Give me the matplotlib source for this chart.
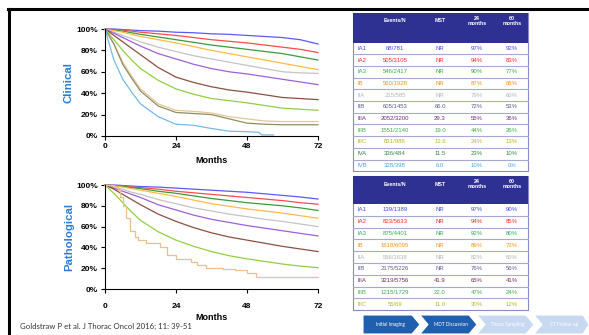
import numpy as np
import matplotlib
matplotlib.use("Agg")
import matplotlib.pyplot as plt
from matplotlib.patches import Rectangle, Polygon

# ---- data ----
stages = ['IA1', 'IA2', 'IA3', 'IB', 'IIA', 'IIB', 'IIIA', 'IIIB', 'IIIC', 'IVA', 'IVB']
months = [0, 3, 6, 9, 12, 18, 24, 30, 36, 42, 48, 54, 60, 66, 72]

clin_ia1 = [100, 100, 99.5, 99, 98.5, 98, 97, 96.5, 95.5, 95, 94, 93, 92, 90, 86]
clin_ia2 = [100, 99.5, 99, 98, 97, 95.5, 94, 92, 90, 88.5, 87, 85, 83, 81, 78]
clin_ia3 = [100, 99, 98, 96.5, 95, 92.5, 90, 87.5, 85, 83, 81, 79, 77, 74, 71]
clin_ib = [100, 98.5, 97, 95, 93, 90, 87, 83.5, 80, 77, 74, 71, 68, 65, 62]
clin_iia = [100, 97, 94, 91, 88, 83, 79, 75, 72, 69, 66, 63, 60, 59, 58.5]
clin_iib = [100, 96, 92, 88, 84, 77, 72, 67, 63, 60, 58, 55.5, 53, 50.5, 48]
clin_iiia = [100, 94, 88, 82, 76, 64, 55, 50, 46, 43, 41, 38.5, 36, 35, 34]
clin_iiib = [100, 90, 80, 71, 63, 52, 44, 39, 35, 33, 31, 28.5, 26, 25, 24]
clin_iiic = [100, 86, 69, 56, 44, 30, 24, 23, 21.5, 18, 16, 14, 13.5, 13.5, 13.5]
clin_iva = [100, 86, 67, 54, 42, 28, 22, 21, 20, 16, 12, 11, 10.5, 10.5, 10.5]
clin_ivb_months = [0, 3, 6, 9, 12, 18, 24, 30, 36, 42, 48, 52, 53, 57]
clin_ivb = [100, 71, 53, 41, 30, 18, 11, 10, 7, 4.5, 4, 3.5, 1, 1]

path_ia1 = [100, 100, 99.5, 99, 98.5, 98, 97, 96, 95, 94, 93, 91.5, 90, 88.5, 86.5]
path_ia2 = [100, 99.5, 99, 98, 97.5, 96, 94, 92.5, 91, 89.5, 88, 86.5, 85, 83, 81.5]
path_ia3 = [100, 99.5, 98.5, 97.5, 96.5, 94, 92, 89.5, 87, 85, 83, 81.5, 80, 78, 75.5]
path_ib = [100, 99, 98, 96.5, 95, 92, 89, 85.5, 82, 79.5, 77, 75, 73, 70.5, 68]
path_iia = [100, 98, 96, 93, 91, 86, 82, 78, 75, 72, 69.5, 67, 65, 62.5, 60]
path_iib = [100, 97, 94, 91, 88, 81, 76, 71, 67, 64, 61, 58.5, 56, 53.5, 51]
path_iiia = [100, 96, 91, 86, 81, 72, 65, 59, 54, 50, 47, 44, 41, 38.5, 36]
path_iiib = [100, 92, 83, 74, 66, 55, 47, 41, 36, 32, 29, 26.5, 24, 22, 20.5]
path_iiic_months = [0, 3, 4.5, 5, 6, 7, 8.5, 10, 11, 14, 18.5, 21, 24, 29, 31, 34, 40, 44, 48, 51, 72]
path_iiic = [100, 98, 95, 88, 80, 68, 56, 50, 47, 44, 40, 33, 29, 26, 23, 20.5, 19, 18, 15, 12, 12]

clin_events = ['68/781', '505/3105', '546/2417', '560/1928', '215/585', '605/1453',
               '2052/3200', '1551/2140', '831/986', '336/484', '328/398']
clin_mst = ['NR', 'NR', 'NR', 'NR', 'NR', '66.0', '29.3', '19.0', '12.6', '11.5', '6.0']
clin_24 = ['97%', '94%', '90%', '87%', '79%', '72%', '55%', '44%', '24%', '23%', '10%']
clin_60 = ['92%', '83%', '77%', '68%', '60%', '53%', '36%', '26%', '13%', '10%', '0%']

path_events = ['139/1389', '823/5633', '875/4401', '1618/6095', '556/1638', '2175/5226',
               '3219/5756', '1215/1729', '55/69']
path_mst = ['NR', 'NR', 'NR', 'NR', 'NR', 'NR', '41.9', '22.0', '11.0']
path_24 = ['97%', '94%', '92%', '89%', '82%', '76%', '65%', '47%', '30%']
path_60 = ['90%', '85%', '80%', '73%', '65%', '56%', '41%', '24%', '12%']

steps = ['Initial Imaging', 'MDT Discussion', 'Tissue Sampling', 'CT Follow-up']

# ---- styles ----
line_colors = ['#5a5aff', '#ff4b4b', '#3a9a3a', '#ffbb44', '#c4c4c4', '#a060d8',
               '#8c5040', '#90d040', '#e8c49c', '#8f8f60', '#74bbea']
text_colors = ['#4a4ae8', '#ff2a2a', '#2db34a', '#f7941d', '#b3b3b3', '#5b5b9c',
               '#7a2a6a', '#3cb44a', '#b5b52a', '#2f8f3f', '#3fa9f5']

W, H = 589, 335
fig = plt.figure(figsize=(W / 100, H / 100), dpi=100)
fig.patch.set_facecolor('white')


def fx(x):
    return x / W


def fy(y):
    return 1 - y / H


def frect(x0, y0, x1, y1):
    return [fx(x0), fy(y1), fx(x1) - fx(x0), fy(y0) - fy(y1)]


# slide border
fig.add_artist(plt.Line2D([fx(8), fx(589)], [fy(9), fy(9)], color='black', lw=2.2))
fig.add_artist(plt.Line2D([fx(9), fx(9)], [fy(9), fy(335)], color='black', lw=2.2))

tick_font = dict(family='Liberation Sans', weight='bold', size=6)


def km_axes(rect, title, curves, xlab_y, months_y):
    ax = fig.add_axes(rect)
    for xs, ys, col, step in curves:
        ax.plot(xs, ys, color=col, lw=0.9, drawstyle='steps-post' if step else 'default',
                clip_on=False)
    ax.set_xlim(0, 72)
    ax.set_ylim(0, 100)
    ax.set_xticks([0, 24, 48, 72])
    ax.set_xticklabels([])
    ax.set_yticks([0, 20, 40, 60, 80, 100])
    ax.set_yticklabels(['0%', '20%', '40%', '60%', '80%', '100%'], **tick_font)
    for s in ['top', 'right']:
        ax.spines[s].set_visible(False)
    for s in ['left', 'bottom']:
        ax.spines[s].set_linewidth(0.8)
    ax.tick_params(direction='out', length=3, width=0.8, pad=2)
    # x tick labels placed at slide positions
    x0, x1 = rect[0], rect[0] + rect[2]
    for m in [0, 24, 48, 72]:
        fig.text(x0 + (x1 - x0) * m / 72, fy(xlab_y), str(m), ha='center', va='center', **tick_font)
    fig.text((x0 + x1) / 2, fy(months_y), 'Months', ha='center', va='center',
             family='Liberation Sans', weight='bold', size=6.5)
    fig.text(fx(69), rect[1] + rect[3] / 2, title, rotation=90, ha='center', va='center',
             family='Liberation Sans', weight='bold', size=8.2, color='#2b7fd8')
    return ax


clin_series = [clin_ia1, clin_ia2, clin_ia3, clin_ib, clin_iia, clin_iib,
               clin_iiia, clin_iiib, clin_iiic, clin_iva]
curves = [(months, s, line_colors[i], False) for i, s in enumerate(clin_series)]
curves.append((clin_ivb_months, clin_ivb, line_colors[10], False))
km_axes(frect(105, 29, 318, 136), 'Clinical', curves, 147, 160)

path_series = [path_ia1, path_ia2, path_ia3, path_ib, path_iia, path_iib, path_iiia, path_iiib]
curves = [(months, s, line_colors[i], False) for i, s in enumerate(path_series)]
curves.append((path_iiic_months, path_iiic, '#eebf8e', True))
km_axes(frect(105, 185, 318, 289), 'Pathological', curves, 306, 317)


def table(top, head_bottom, pitch, events, mst, m24, m60):
    left, right = 353, 528
    n = len(events)
    bottom = head_bottom + n * pitch
    fig.add_artist(Rectangle((fx(left), fy(bottom)), fx(right) - fx(left), fy(top) - fy(bottom),
                             facecolor='white', edgecolor='#8a8ac8', lw=0.8))
    fig.add_artist(Rectangle((fx(left), fy(head_bottom)), fx(right) - fx(left),
                             fy(top) - fy(head_bottom), facecolor='#2e3192', edgecolor='none'))
    hk = dict(color='white', weight='bold', size=3.8, family='Liberation Sans', ha='center', va='center')
    fig.text(fx(395), fy(top + 8), 'Events/N', **hk)
    fig.text(fx(440), fy(top + 8), 'MST', **hk)
    fig.text(fx(477), fy(top + 8), '24\nmonths', linespacing=1.1, **hk)
    fig.text(fx(512), fy(top + 8), '60\nmonths', linespacing=1.1, **hk)
    rk = dict(size=4.3, family='Liberation Sans', va='center')
    for i in range(n):
        yc = head_bottom + (i + 0.5) * pitch
        c = text_colors[i]
        fig.text(fx(358), fy(yc), stages[i], ha='left', color=c, **rk)
        fig.text(fx(395), fy(yc), events[i], ha='center', color=c, **rk)
        fig.text(fx(440), fy(yc), mst[i], ha='center', color=c, **rk)
        fig.text(fx(477), fy(yc), m24[i], ha='center', color=c, **rk)
        fig.text(fx(512), fy(yc), m60[i], ha='center', color=c, **rk)
        if i < n - 1:
            yl = head_bottom + (i + 1) * pitch
            fig.add_artist(plt.Line2D([fx(left), fx(right)], [fy(yl), fy(yl)],
                                      color='#a8a8d8', lw=0.8))


table(13, 42.5, 11.7, clin_events, clin_mst, clin_24, clin_60)
table(176, 204, 11.8, path_events, path_mst, path_24, path_60)

# citation
fig.text(fx(20), fy(326), 'Goldstraw P et al. J Thorac Oncol 2016; 11: 39-51',
         family='Lato', size=5.6, color='#333333', ha='left', va='center')

# process chevrons
ytop, ybot, d, w = 315, 334, 8, 57
for i, name in enumerate(steps):
    x = 363 + w * i
    col = '#1f5fae' if i < 2 else '#c6d9f0'
    if i == 0:
        pts = [(x, ytop), (x + w - d, ytop), (x + w, (ytop + ybot) / 2), (x + w - d, ybot), (x, ybot)]
    else:
        pts = [(x, ytop), (x + w - d, ytop), (x + w, (ytop + ybot) / 2), (x + w - d, ybot),
               (x, ybot), (x + d, (ytop + ybot) / 2)]
    pts = [(fx(px) if px < W else 1.0, fy(py)) for px, py in pts]
    fig.add_artist(Polygon(pts, closed=True, facecolor=col, edgecolor='white', lw=0.8))
    fig.text(fx(x + w / 2 + (2 if i else -1)), fy((ytop + ybot) / 2), name, color='white',
             family='Lato', size=3.4, ha='center', va='center')

fig.savefig('out.png', dpi=100)
